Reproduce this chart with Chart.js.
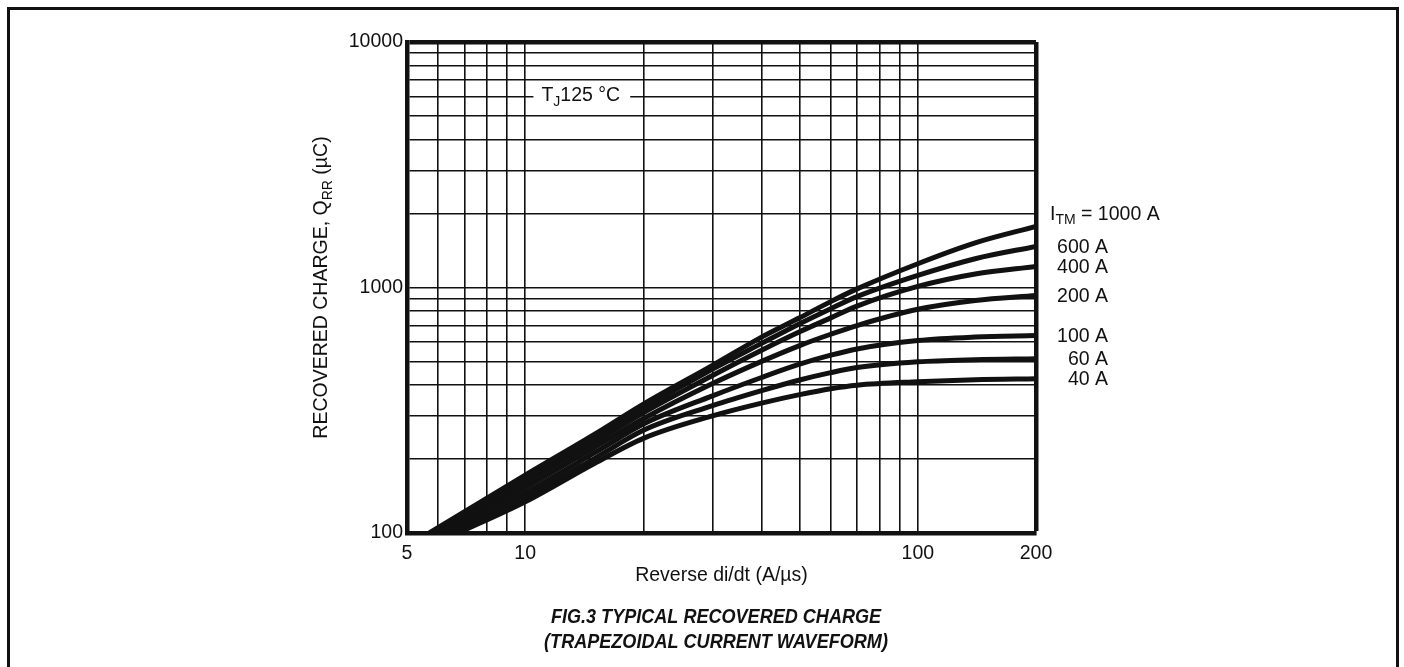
<!DOCTYPE html>
<html>
<head>
<meta charset="utf-8">
<script src="https://cdn.jsdelivr.net/npm/chart.js"></script>
<style>
  html, body { margin: 0; padding: 0; background: #fff; }
  #wrap { width: 1404px; height: 667px; }
</style>
</head>
<body>
<div id="wrap"><canvas id="qrrChart"></canvas></div>
<script>
// reverse di/dt (A/us) where the curves are read
const diDt = [10, 15, 20, 30, 40, 50, 60, 70, 100, 140, 200];
// where each curve leaves the 100 uC floor (1000 A ... 40 A)
const startDiDt = [5.7, 5.85, 6.0, 6.15, 6.3, 6.5, 6.75];
const currentLabels = ['1000 A', '600 A', '400 A', '200 A', '100 A', '60 A', '40 A'];

// recovered charge Qrr (uC)
const qrr1000 = [172, 252, 335, 482, 628, 753, 876, 987, 1250, 1520, 1774];
const qrr600 = [166, 243, 322, 465, 592, 712, 820, 918, 1120, 1310, 1470];
const qrr400 = [160, 234, 309, 438, 555, 660, 752, 840, 1010, 1135, 1219];
const qrr200 = [153, 223, 292, 406, 500, 580, 645, 700, 815, 885, 928];
const qrr100 = [146, 212, 278, 362, 430, 487, 530, 562, 608, 628, 637];
const qrr60 = [140, 201, 262, 330, 380, 420, 450, 472, 498, 508, 513];
const qrr40 = [134, 192, 243, 300, 338, 366, 387, 400, 413, 421, 425];

const xGridValues = [5, 6, 7, 8, 9, 10, 20, 30, 40, 50, 60, 70, 80, 90, 100, 200];
const xTickLabels = [5, 10, 100, 200];
const yGridValues = [100, 200, 300, 400, 500, 600, 700, 800, 900,
  1000, 2000, 3000, 4000, 5000, 6000, 7000, 8000, 9000, 10000];
const yTickLabels = [100, 1000, 10000];

// T_J note sits on the 6000 line
const tjAt = { x: 11, y: 6000 };
const figTitle = ['FIG.3 TYPICAL RECOVERED CHARGE', '(TRAPEZOIDAL CURRENT WAVEFORM)'];

const INK = '#111';
const FONT = "'Liberation Sans', Arial, sans-serif";

const series = [qrr1000, qrr600, qrr400, qrr200, qrr100, qrr60, qrr40];
const datasets = series.map((vals, i) => ({
  label: currentLabels[i],
  data: [{ x: startDiDt[i], y: 100 }].concat(diDt.map((x, j) => ({ x: x, y: vals[j] }))),
  borderColor: INK,
  borderWidth: 5,
  pointRadius: 0,
  fill: false,
  cubicInterpolationMode: 'monotone'
}));

// draws a run of [text, isSubscript] pieces starting at x
function drawPieces(ctx, pieces, x, y, size) {
  pieces.forEach(p => {
    const sub = p[1];
    ctx.font = (sub ? Math.round(size * 0.72) : size) + 'px ' + FONT;
    ctx.fillText(p[0], x, sub ? y + size * 0.32 : y);
    x += ctx.measureText(p[0]).width;
  });
}
function piecesWidth(ctx, pieces, size) {
  let w = 0;
  pieces.forEach(p => {
    ctx.font = (p[1] ? Math.round(size * 0.72) : size) + 'px ' + FONT;
    w += ctx.measureText(p[0]).width;
  });
  return w;
}

const textPlugin = {
  id: 'qrrText',
  beforeDraw(chart) {
    const ctx = chart.ctx;
    ctx.save();
    ctx.fillStyle = '#fff';
    ctx.fillRect(0, 0, chart.width, chart.height);
    ctx.strokeStyle = INK;
    ctx.lineWidth = 3;
    ctx.strokeRect(8.5, 8.5, chart.width - 15, chart.height + 40);
    ctx.restore();
  },
  afterDraw(chart) {
    const ctx = chart.ctx;
    const area = chart.chartArea;
    const xs = chart.scales.x, ys = chart.scales.y;
    ctx.save();
    ctx.fillStyle = INK;
    ctx.textBaseline = 'middle';
    ctx.textAlign = 'left';

    // y axis title, rotated, with subscript
    const yTitle = [['RECOVERED CHARGE, Q', false], ['RR', true], [' (\u00b5C)', false]];
    ctx.save();
    ctx.translate(area.left - 85, (area.top + area.bottom) / 2);
    ctx.rotate(-Math.PI / 2);
    const yw = piecesWidth(ctx, yTitle, 19.5);
    drawPieces(ctx, yTitle, -yw / 2, 0, 19.5);
    ctx.restore();

    // T_J note with a white gap in the grid line
    const tj = [['T', false], ['J', true], ['125 \u00b0C', false]];
    const tx = xs.getPixelForValue(tjAt.x);
    const ty = ys.getPixelForValue(tjAt.y);
    const tw = piecesWidth(ctx, tj, 19.5) + 4;
    ctx.fillStyle = '#fff';
    ctx.fillRect(tx - 8, ty - 3, tw + 14, 6);
    ctx.fillStyle = INK;
    drawPieces(ctx, tj, tx, ty - 1, 19.5);

    // curve labels at the right end of each curve
    chart.data.datasets.forEach((ds, i) => {
      const pts = chart.getDatasetMeta(i).data;
      const yEnd = pts[pts.length - 1].y;
      if (i === 0) {
        drawPieces(ctx, [['I', false], ['TM', true], [' = ' + currentLabels[0], false]],
          area.right + 14, yEnd - 12, 19.5);
      } else {
        ctx.font = '19.5px ' + FONT;
        ctx.textAlign = 'right';
        ctx.fillText(ds.label, area.right + 72, yEnd + 1);
        ctx.textAlign = 'left';
      }
    });

    // figure caption, bold italic and a little condensed like the print
    ctx.font = 'italic bold 21px ' + FONT;
    ctx.textAlign = 'center';
    figTitle.forEach((line, k) => {
      ctx.save();
      ctx.translate(716, area.bottom + 84 + k * 25);
      ctx.scale(0.86, 1);
      ctx.fillText(line, 0, 0);
      ctx.restore();
    });
    ctx.restore();
  }
};

const config = {
  type: 'line',
  data: { datasets: datasets },
  options: {
    responsive: true,
    maintainAspectRatio: false,
    animation: false,
    events: [],
    layout: { padding: { left: 327, right: 368, top: 42, bottom: 82 } },
    scales: {
      x: {
        type: 'logarithmic',
        min: 5,
        max: 200,
        afterBuildTicks: s => { s.ticks = xGridValues.map(v => ({ value: v })); },
        afterFit: s => { s.height = 52; },
        grid: {
          color: INK,
          drawTicks: false,
          lineWidth: c => (c.tick && c.tick.value === 200 ? 4.5 : 1.6)
        },
        border: { display: true, color: INK, width: 4.5 },
        ticks: {
          autoSkip: false,
          maxRotation: 0,
          padding: 9,
          color: INK,
          font: { size: 19.5, family: FONT },
          callback: v => (xTickLabels.includes(v) ? String(v) : '')
        },
        title: {
          display: true,
          text: 'Reverse di/dt (A/\u00b5s)',
          color: INK,
          font: { size: 19.5, family: FONT },
          padding: { top: 0, bottom: -2 }
        }
      },
      y: {
        type: 'logarithmic',
        min: 100,
        max: 10000,
        afterBuildTicks: s => { s.ticks = yGridValues.map(v => ({ value: v })); },
        afterFit: s => { s.width = 80; },
        grid: {
          color: INK,
          drawTicks: false,
          lineWidth: c => (c.tick && c.tick.value === 10000 ? 4.5 : 1.6)
        },
        border: { display: true, color: INK, width: 4.5 },
        ticks: {
          autoSkip: false,
          padding: 4,
          color: INK,
          font: { size: 19.5, family: FONT },
          callback: v => (yTickLabels.includes(v) ? String(v) : '')
        }
      }
    },
    plugins: {
      legend: { display: false },
      tooltip: { enabled: false }
    }
  },
  plugins: [textPlugin]
};

window.addEventListener('DOMContentLoaded', () => {
  const ctx = document.getElementById('qrrChart').getContext('2d');
  new Chart(ctx, config);
});
</script>
</body>
</html>
